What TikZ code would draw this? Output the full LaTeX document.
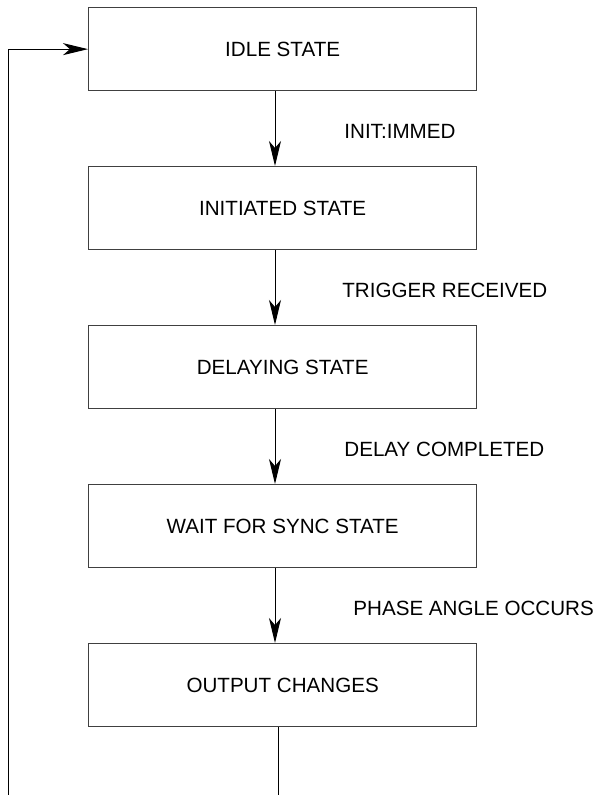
\documentclass[tikz,border=0pt]{standalone}
\usepackage{fontspec}
\setmainfont{Liberation Sans}
\usetikzlibrary{arrows.meta}
\begin{document}
\begin{tikzpicture}[x=0.5pt,y=-0.5pt,
  box/.style={draw=black!75, line width=0.65pt, minimum width=194pt, minimum height=41.5pt, inner sep=0pt, font=\fontsize{10.3}{12}\selectfont, anchor=north west},
  wire/.style={line width=0.5pt},
  conn/.style={wire, -{Stealth[length=12.5pt,width=6pt,inset=3.5pt]}},
  lbl/.style={font=\fontsize{10.3}{12}\selectfont, anchor=west, inner sep=0pt}]
\useasboundingbox (0,0) rectangle (598,795);
\fill[white] (0,0) rectangle (598,795);
\coordinate (ax) at (275,0);
\coordinate (lb) at (8,795);
\coordinate (ob) at (278,795);
\node[box] (b1) at (88,7) {IDLE STATE};
\node[box] (b2) at (88,166) {INITIATED STATE};
\node[box] (b3) at (88,325) {DELAYING STATE};
\node[box] (b4) at (88,484) {WAIT FOR SYNC STATE};
\node[box] (b5) at (88,643) {OUTPUT CHANGES};
\draw[conn] (b1.south -| ax) -- (b2.north -| ax);
\draw[conn] (b2.south -| ax) -- (b3.north -| ax);
\draw[conn] (b3.south -| ax) -- (b4.north -| ax);
\draw[conn] (b4.south -| ax) -- (b5.north -| ax);
\draw[wire] (b5.south -| ob) -- (ob);
\draw[conn] (lb) |- (b1.west);
\node[lbl] (l1) at (344,131) {INIT:IMMED};
\node[lbl] (l2) at (342,290) {TRIGGER RECEIVED};
\node[lbl] (l3) at (344,449) {DELAY COMPLETED};
\node[lbl] (l4) at (353,608) {PHASE ANGLE OCCURS};
\end{tikzpicture}
\end{document}
